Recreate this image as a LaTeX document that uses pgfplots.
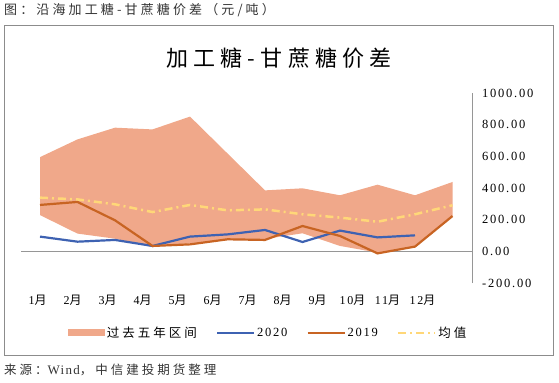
\documentclass[border=0pt]{standalone}
\usepackage{fontspec}
\setmainfont{Liberation Serif}[LetterSpace=14]
\newfontfamily\cjk{Noto Sans CJK SC}[LetterSpace=24]
\newfontfamily\lat{Liberation Serif}[LetterSpace=10]
\usepackage{pgfplots}
\pgfplotsset{compat=1.18}
\definecolor{bandc}{RGB}{240,168,138}
\definecolor{c2020}{RGB}{62,98,178}
\definecolor{c2019}{RGB}{200,100,35}
\definecolor{cavg}{RGB}{255,215,120}
\definecolor{framec}{RGB}{140,140,140}
\definecolor{axc}{RGB}{150,150,150}
\pgfplotsset{
  mylinelegend/.style={legend image code/.code={\draw[##1] (0bp,0bp) -- (37bp,0bp);}},
  mybandlegend/.style={legend image code/.code={\fill[bandc] (0bp,-3.5bp) rectangle (37bp,3.5bp);}},
}
\begin{document}
\begin{tikzpicture}[x=1bp,y=1bp]
\path[use as bounding box] (0,0) rectangle (559,382);
\draw[framec, line width=0.8bp] (4.5,357) rectangle (553,27);
\node[anchor=west, inner sep=0, font=\cjk\fontsize{13bp}{14bp}\selectfont, text=black!80] at (4,371.5) {图：沿海加工糖-甘蔗糖价差（元/吨）};
\node[anchor=west, inner sep=0, font=\cjk\fontsize{12.5bp}{14bp}\selectfont, text=black!80] at (4,12) {来源：{\lat\fontsize{13bp}{14bp}\selectfont Wind}，中信建投期货整理};
\node[inner sep=0, font=\cjk\fontsize{22bp}{24bp}\selectfont] at (279,324) {加工糖-甘蔗糖价差};
\begin{axis}[
  at={(21bp,99bp)}, anchor=south west,
  scale only axis, width=451bp, height=190bp,
  xmin=0.4933, xmax=12.52, ymin=-200, ymax=1000,
  axis x line*=bottom, axis y line*=right,
  x axis line style={draw=none},
  y axis line style={draw=axc, line width=0.8bp, -},
  major tick length=0,
  xtick={0.9333,1.8667,2.8,3.7333,4.6667,5.6,6.5333,7.4667,8.4,9.3333,10.2667,11.2},
  xticklabels={1{\cjk 月},2{\cjk 月},3{\cjk 月},4{\cjk 月},5{\cjk 月},6{\cjk 月},7{\cjk 月},8{\cjk 月},9{\cjk 月},10{\cjk 月},11{\cjk 月},12{\cjk 月}},
  xticklabel style={font=\fontsize{12bp}{14bp}\selectfont, anchor=center, yshift=-17bp, inner sep=0},
  ytick={-200,0,200,400,600,800,1000},
  yticklabel style={font=\fontsize{12.5bp}{14bp}\selectfont, anchor=west, xshift=10bp, inner sep=0},
  /pgf/number format/assume math mode=true,
  /pgf/number format/.cd, fixed, fixed zerofill, precision=2, 1000 sep={}, /pgfplots/.cd,
  legend columns=4,
  legend style={at={(0.548,-0.263)}, anchor=center, draw=none, fill=none,
    font=\fontsize{12.5bp}{14bp}\selectfont,
    /tikz/every even column/.append style={column sep=17bp},
    inner sep=0, row sep=0},
  legend cell align=left,
]
\addplot[axc, line width=0.8bp, forget plot] coordinates {(0.4933,0) (12.52,0)};
\addplot[fill=bandc, draw=none, mybandlegend] coordinates {
(1,595) (2,707) (3,781) (4,770) (5,851) (6,618) (7,385) (8,398) (9,354) (10,421) (11,354) (12,438)
(12,223) (11,30) (10,-8) (9,34) (8,114) (7,78) (6,72) (5,50) (4,27) (3,80) (2,112) (1,229)} -- cycle;
\addlegendentry{\cjk 过去五年区间}
\addplot[c2020, line width=2.2bp, mylinelegend] coordinates {
(1,93) (2,61) (3,72) (4,34) (5,93) (6,107) (7,135) (8,59) (9,131) (10,88) (11,101)};
\addlegendentry{2020}
\addplot[c2019, line width=2.2bp, mylinelegend] coordinates {
(1,293) (2,312) (3,196) (4,34) (5,44) (6,76) (7,72) (8,160) (9,97) (10,-13) (11,30) (12,223)};
\addlegendentry{2019}
\addplot[cavg, line width=2.5bp, dash pattern=on 8bp off 4bp on 2bp off 4bp, mylinelegend] coordinates {
(1,339) (2,328) (3,297) (4,248) (5,293) (6,259) (7,265) (8,234) (9,213) (10,187) (11,234) (12,291)};
\addlegendentry{\cjk 均值}
\end{axis}
\end{tikzpicture}
\end{document}
